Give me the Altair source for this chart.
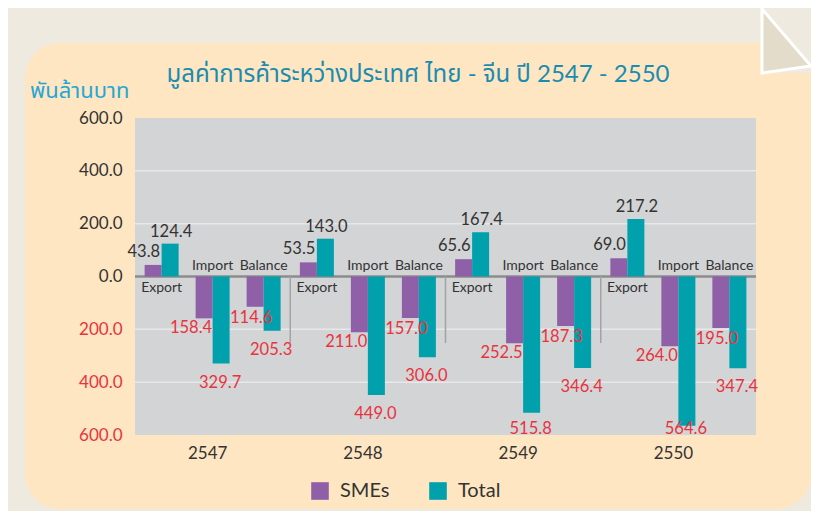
import altair as alt
import pandas as pd

# ---------------- data ----------------
years = ["2547", "2548", "2549", "2550"]
categories = ["Export", "Import", "Balance"]
series = ["SMEs", "Total"]
sme_export = [43.8, 53.5, 65.6, 69.0]
total_export = [124.4, 143.0, 167.4, 217.2]
sme_import = [-158.4, -211.0, -252.5, -264.0]
total_import = [-329.7, -449.0, -515.8, -564.6]
sme_balance = [-114.6, -157.0, -187.3, -195.0]
total_balance = [-205.3, -306.0, -346.4, -347.4]
y_ticks = [-600, -400, -200, 0, 200, 400, 600]
grid_values = [400, 200, -200, -400]
title_text = "มูลค่าการค้าระหว่างประเทศ ไทย - จีน ปี 2547 - 2550"
unit_text = "พันล้านบาท"

series_values = {
    ("Export", "SMEs"): sme_export,
    ("Export", "Total"): total_export,
    ("Import", "SMEs"): sme_import,
    ("Import", "Total"): total_import,
    ("Balance", "SMEs"): sme_balance,
    ("Balance", "Total"): total_balance,
}
rows = []
for cat in categories:
    for s in series:
        for i, yr in enumerate(years):
            rows.append({"year": yr, "category": cat, "series": s,
                         "value": series_values[(cat, s)][i], "slot": f"{cat}|{s}"})
df = pd.DataFrame(rows)
cat_df = pd.DataFrame([{"year": yr, "category": c, "slot": f"{c}|SMEs"} for yr in years for c in categories])
sep_df = pd.DataFrame({"year": years[1:]})
grid_df = pd.DataFrame({"v": grid_values})

slots = ["Export|SMEs", "Export|Total", "gap1", "Import|SMEs", "Import|Total",
         "gap2", "Balance|SMEs", "Balance|Total"]

# ---------------- style ----------------
W, H = 621, 317
FONT = "Lato, 'Noto Sans Thai', Tahoma, sans-serif"
PURPLE = "#8F5FA7"
TEAL = "#00A0AD"
RED = "#E8333D"
DARK = "#333333"
ORANGE = "#FFE6C2"
OUTER = "#EEEAE0"
PLOTBG = "#D3D4D6"

x_scale = alt.Scale(domain=years, paddingInner=0, paddingOuter=0)
xo_scale = alt.Scale(domain=slots, paddingInner=0, paddingOuter=0.566)
y_scale = alt.Scale(domain=[-600, 600], nice=False, zero=False)

x_axis = alt.Axis(title=None, domain=False, ticks=False, labelAngle=0, labelFont=FONT,
                  labelFontSize=17, labelColor=DARK, labelPadding=10, labelOffset=-5, zindex=1)
y_axis = alt.Axis(title=None, values=y_ticks, domain=False, ticks=False, grid=False,
                  labelFont=FONT, labelFontSize=17, labelPadding=13, zindex=1,
                  labelExpr="format(abs(datum.value), '.1f')",
                  labelColor={"expr": f"datum.value < 0 ? '{RED}' : '{DARK}'"})

x_enc = alt.X("year:N", scale=x_scale, axis=x_axis)
xo_enc = alt.XOffset("slot:N", scale=xo_scale)
y_enc = alt.Y("value:Q", scale=y_scale, axis=y_axis)

one = alt.Data(values=[{"a": 1}])

# ---------------- decoration ----------------
orange_bg = alt.Chart(one).mark_rect(fill=ORANGE, cornerRadius=35).encode(
    x=alt.value(-110), x2=alt.value(676), y=alt.value(-75), y2=alt.value(391))
corner_patch = alt.Chart(one).mark_rect(fill=OUTER).encode(
    x=alt.value(627), x2=alt.value(680), y=alt.value(-110), y2=alt.value(-45))
fold = alt.Chart(one).mark_point(
    shape="M -0.766 -1 L 0.766 0.78 L -0.766 1 Z", filled=True, fill="#E4DCCA",
    stroke="white", strokeWidth=3, opacity=1, size=4096).encode(
    x=alt.value(651.5), y=alt.value(-77))
plot_bg = alt.Chart(one).mark_rect(fill=PLOTBG).encode(
    x=alt.value(0), x2=alt.value(W), y=alt.value(0), y2=alt.value(H))
grid = alt.Chart(grid_df).mark_rule(color="#E8E8EA", strokeWidth=1.5).encode(
    y=alt.Y("v:Q", scale=y_scale), x=alt.value(0), x2=alt.value(W))
zero_line = alt.Chart(one).mark_rule(color="#8C8C8C", strokeWidth=2.5).encode(
    y=alt.datum(0), x=alt.value(0), x2=alt.value(W))
separators = alt.Chart(sep_df).mark_rule(color="#A3A3A3", strokeWidth=1.5).encode(
    x=alt.X("year:N", bandPosition=0, scale=x_scale, axis=x_axis),
    y=alt.datum(0), y2=alt.value(225))

# ---------------- bars ----------------
bars = alt.Chart(df).mark_bar().encode(
    x=x_enc, xOffset=xo_enc, y=y_enc, y2=alt.datum(0),
    color=alt.Color("series:N", scale=alt.Scale(domain=series, range=[PURPLE, TEAL]),
                    legend=alt.Legend(orient="none", legendX=175, legendY=363,
                                      direction="horizontal", title=None, padding=0,
                                      symbolType="square", symbolSize=310,
                                      symbolStrokeWidth=0, labelFont=FONT,
                                      labelFontSize=20, labelColor=DARK,
                                      labelOffset=10, columnPadding=38)),
)

def labels(filt, align, dx, dy, color, floor=-600):
    return alt.Chart(df).transform_filter(filt).transform_calculate(
        abs_value="abs(datum.value)",
        label_pos=f"max(datum.value, {floor})",
    ).mark_text(
        align=align, baseline="alphabetic", dx=dx, dy=dy, font=FONT,
        fontSize=16.5, color=color).encode(
        x=x_enc, xOffset=xo_enc,
        y=alt.Y("label_pos:Q", scale=y_scale, axis=y_axis),
        text=alt.Text("abs_value:Q", format=".1f"))

lab_pos_sme = labels("datum.value > 0 && datum.series == 'SMEs'", "right", 7, -8, DARK)
lab_pos_tot = labels("datum.value > 0 && datum.series == 'Total'", "center", 1, -7, DARK)
lab_imp_sme = labels("datum.category == 'Import' && datum.series == 'SMEs'", "right", 8, 15, RED)
lab_bal_sme = labels("datum.category == 'Balance' && datum.series == 'SMEs'", "center", -4, 16, RED)
lab_neg_tot = labels("datum.value < 0 && datum.series == 'Total'", "center", -1, 24, RED, floor=-505)

cat_below = alt.Chart(cat_df).transform_filter("datum.category == 'Export'").mark_text(
    align="center", baseline="alphabetic", dx=8.5, dy=15, font=FONT, fontSize=14,
    color=DARK).encode(x=x_enc, xOffset=xo_enc, y=alt.datum(0), text="category:N")
cat_above = alt.Chart(cat_df).transform_filter("datum.category != 'Export'").mark_text(
    align="center", baseline="alphabetic", dx=8.5, dy=-7, font=FONT, fontSize=14,
    color=DARK).encode(x=x_enc, xOffset=xo_enc, y=alt.datum(0), text="category:N")

title = alt.Chart(alt.Data(values=[{"t": title_text}])).mark_text(
    align="center", baseline="middle", font=FONT, fontSize=24, color="#1A8CB0").encode(
    x=alt.value(283), y=alt.value(-43), text="t:N")
unit = alt.Chart(alt.Data(values=[{"t": unit_text}])).mark_text(
    align="left", baseline="middle", font=FONT, fontSize=22, color="#26A6D6").encode(
    x=alt.value(-105), y=alt.value(-27), text="t:N")

chart = alt.layer(
    orange_bg, corner_patch, fold, plot_bg, grid, zero_line, separators, bars,
    lab_pos_sme, lab_pos_tot, lab_imp_sme, lab_bal_sme, lab_neg_tot,
    cat_below, cat_above, title, unit,
).properties(
    width=W, height=H, background=OUTER,
    padding={"left": 127, "top": 110, "right": 55, "bottom": 76},
    autosize=alt.AutoSizeParams(type="none"),
).configure_view(stroke=None)

chart.save("out.html", embed_options={"renderer": "svg", "actions": False})
